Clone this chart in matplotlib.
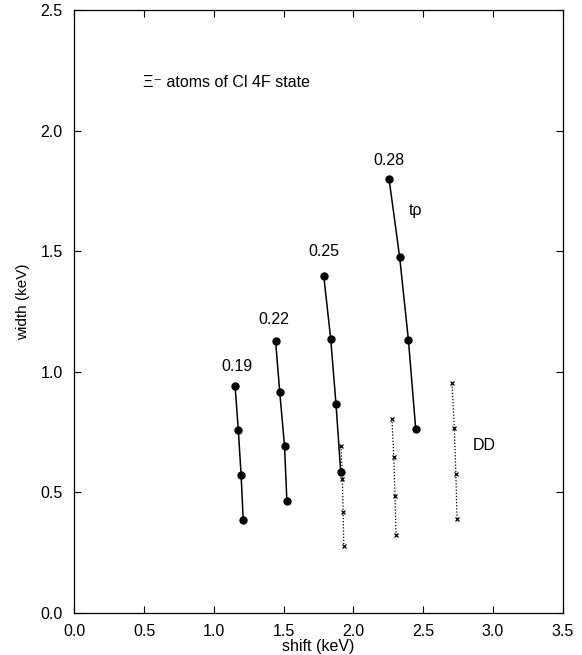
import matplotlib
matplotlib.use('Agg')
import matplotlib.pyplot as plt

plt.rcParams['font.family'] = ['Liberation Sans', 'DejaVu Sans']

# t-rho curves, one per parameter value (shift, width in keV)
trho_labels = ['0.19', '0.22', '0.25', '0.28']
trho_shift = [
    [1.152, 1.175, 1.195, 1.210],
    [1.442, 1.472, 1.506, 1.523],
    [1.787, 1.837, 1.875, 1.909],
    [2.255, 2.331, 2.394, 2.446],
]
trho_width = [
    [0.940, 0.758, 0.573, 0.386],
    [1.129, 0.915, 0.693, 0.465],
    [1.399, 1.137, 0.865, 0.583],
    [1.801, 1.476, 1.131, 0.764],
]
label_pos = [(1.167, 1.02), (1.430, 1.215), (1.787, 1.50), (2.255, 1.875)]

# DD curves
dd_shift = [
    [1.911, 1.921, 1.926, 1.931],
    [2.276, 2.289, 2.298, 2.305],
    [2.706, 2.723, 2.734, 2.742],
]
dd_width = [
    [0.692, 0.555, 0.420, 0.278],
    [0.805, 0.646, 0.483, 0.323],
    [0.952, 0.767, 0.576, 0.388],
]

fig = plt.figure(figsize=(5.82, 6.55), dpi=100)
ax = fig.add_axes([0.1277, 0.0644, 0.8393, 0.9199])

for xs, ys in zip(trho_shift, trho_width):
    ax.plot(xs, ys, color='black', lw=1.1, marker='o', ms=5, mfc='black', mec='black')
for lab, (lx, ly) in zip(trho_labels, label_pos):
    ax.text(lx, ly, lab, ha='center', va='center', fontsize=11.5)

for xs, ys in zip(dd_shift, dd_width):
    ax.plot(xs, ys, color='black', lw=0.9, ls=(0, (1, 1.5)), marker='x', ms=3, mew=0.9)

ax.text(2.446, 1.67, 'tρ', ha='center', va='center', fontsize=11.5)
ax.text(2.94, 0.693, 'DD', ha='center', va='center', fontsize=11.5)
ax.text(0.494, 2.20, 'Ξ⁻ atoms of Cl 4F state', ha='left', va='center', fontsize=11.5)

ax.set_xlim(0, 3.5)
ax.set_ylim(0, 2.5)
ax.set_xticks([0.0, 0.5, 1.0, 1.5, 2.0, 2.5, 3.0, 3.5])
ax.set_yticks([0.0, 0.5, 1.0, 1.5, 2.0, 2.5])
ax.xaxis.set_major_formatter(matplotlib.ticker.FormatStrFormatter('%.1f'))
ax.yaxis.set_major_formatter(matplotlib.ticker.FormatStrFormatter('%.1f'))
ax.tick_params(direction='in', top=True, right=True, length=5, width=0.8, labelsize=11.5)
ax.tick_params(axis='x', pad=8)
ax.tick_params(axis='y', pad=8.5)
for sp in ax.spines.values():
    sp.set_linewidth(0.9)
ax.set_xlabel('shift (keV)', fontsize=11.5)
ax.set_ylabel('width (keV)', fontsize=11)
ax.xaxis.set_label_coords(0.5, -0.043)
ax.yaxis.set_label_coords(-0.09, 0.516)

fig.savefig('out.png', dpi=100)
